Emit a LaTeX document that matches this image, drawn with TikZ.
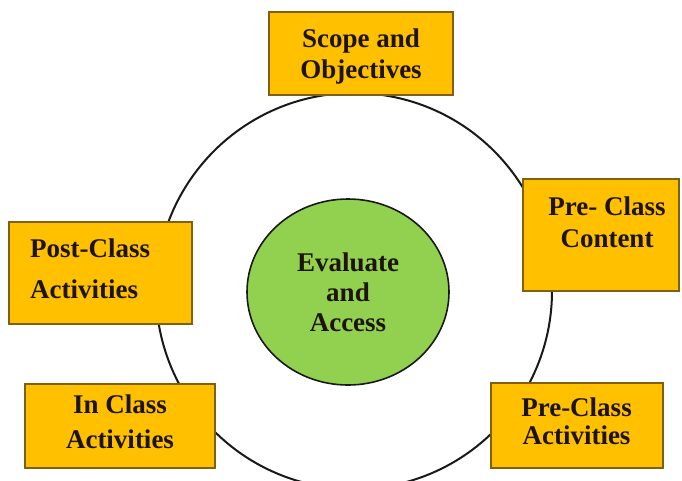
\documentclass[tikz,border=0pt]{standalone}
\usepackage{fontspec}
\setmainfont{Liberation Serif}
\usepackage{tikz}
\usetikzlibrary{shapes.geometric}

\definecolor{boxfill}{RGB}{255,192,0}
\definecolor{boxline}{RGB}{128,96,10}
\definecolor{hubfill}{RGB}{146,208,80}
\definecolor{inktext}{RGB}{30,20,5}

\begin{document}
\begin{tikzpicture}[x=1pt, y=-1pt,
    every node/.style={text=inktext, align=center, inner sep=0pt},
    lead/.style={font=\fontsize{27}{#1}\selectfont\bfseries},
    box/.style={rectangle, draw=boxline, fill=boxfill, line width=1.4pt}]
  \useasboundingbox (0,0) rectangle (682,480);
  \clip (0,0) rectangle (682,480);

  % outer ring, the boxes sit on top of it
  \node[circle, draw=black!90, line width=2pt, minimum size=396pt] (ring) at (354,291) {};

  % the five boxes
  \node[box, minimum width=184pt, minimum height=83pt] (scope) at (361,53.5) {};
  \node[box, minimum width=156pt, minimum height=112pt] (content) at (601,235) {};
  \node[box, minimum width=172pt, minimum height=85pt] (preact) at (577,425.5) {};
  \node[box, minimum width=190pt, minimum height=84pt] (inclass) at (120,426) {};
  \node[box, minimum width=183pt, minimum height=102pt] (postclass) at (100.5,273) {};

  % their texts
  \node[lead=31] (scopeT) at (361,56.3) {Scope and\\Objectives};
  \node[lead=32] (contentT) at (607,221.8) {Pre- Class\\Content};
  \node[lead=28] (preactT) at (576.5,420.8) {Pre-Class\\Activities};
  \node[lead=35] (inclassT) at (120,421.3) {In Class\\Activities};
  \node[lead=41, align=left, anchor=west] (postclassT) at (30,268.5) {Post-Class\\Activities};

  % centre
  \node[ellipse, draw=black!90, line width=1.6pt, fill=hubfill,
        minimum width=202pt, minimum height=186pt, lead=30] (hub) at (348,292)
        {Evaluate\\and\\Access};
\end{tikzpicture}
\end{document}
